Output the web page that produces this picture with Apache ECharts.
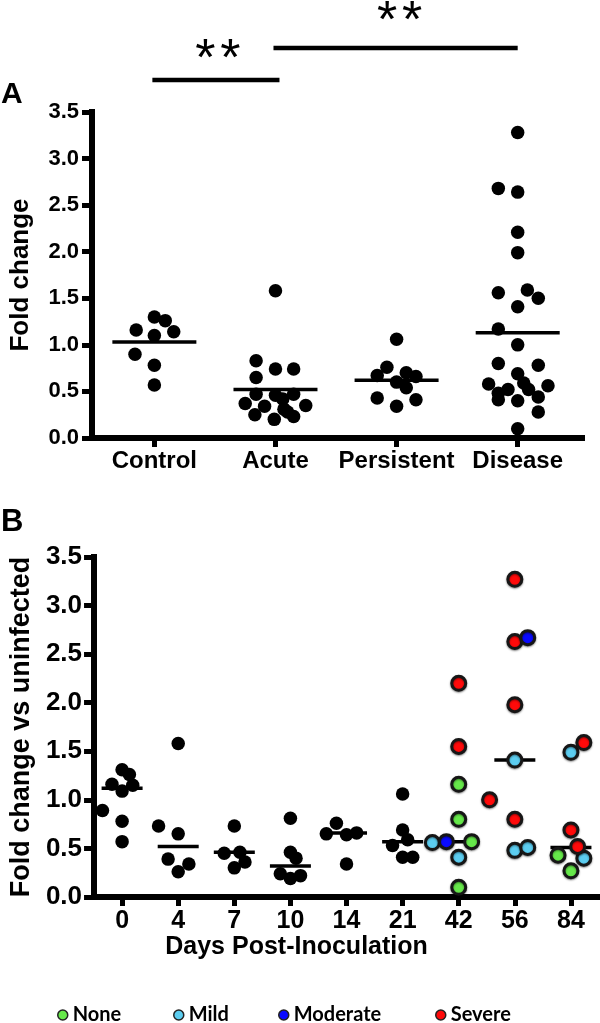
<!DOCTYPE html>
<html><head><meta charset="utf-8">
<script src="https://cdn.jsdelivr.net/npm/echarts@6/dist/echarts.min.js"></script>
<style>html,body{margin:0;padding:0;background:#fff}#c{width:600px;height:1023px}</style>
</head><body><div id="c"></div>
<script>
// ---------- Panel A data: [jitter (category units), fold change] ----------
const catsA = ['Control', 'Acute', 'Persistent', 'Disease'];
const controlPts = [[0,1.30],[0.09,1.26],[-0.15,1.16],[0.16,1.14],[0,1.10],[-0.16,0.90],[0,0.78],[0,0.57]];
const acutePts = [[0,1.58],[-0.16,0.83],[0,0.74],[0.15,0.74],[-0.16,0.65],[-0.16,0.47],[0,0.46],[0.15,0.47],
  [-0.25,0.37],[0.25,0.35],[-0.09,0.34],[0.07,0.31],[-0.17,0.25],[-0.01,0.20],[0.15,0.23],[0.06,0.42],[0.1,0.28]];
const persistentPts = [[0,1.06],[-0.08,0.76],[-0.16,0.67],[0.08,0.70],[0.16,0.66],[0,0.60],[0.08,0.54],[-0.16,0.43],[0.16,0.41],[0,0.34]];
const diseasePts = [[0,3.28],[-0.16,2.68],[0,2.64],[0,2.21],[0,1.99],[-0.16,1.56],[0.08,1.59],[0.17,1.50],[0,1.41],
  [-0.16,1.17],[0,1.00],[-0.16,0.80],[0.17,0.78],[0,0.69],[0.05,0.59],[-0.24,0.58],[0.25,0.56],[-0.08,0.52],[0.09,0.52],
  [-0.16,0.48],[-0.16,0.41],[0,0.40],[0.17,0.44],[0.17,0.28],[0,0.10]];
const meansA = [1.03, 0.52, 0.62, 1.13];
const sigPairs = [[0, 1, '*'], [1, 3, '*']];

// ---------- Panel B data: [day index, jitter, fold change] ----------
const daysB = ['0', '4', '7', '10', '14', '21', '42', '56', '84'];
const ungradedB = [
  [0,0,1.31],[0,0.13,1.26],[0,-0.18,1.16],[0,0.19,1.15],[0,0,1.09],[0,-0.35,0.89],[0,0,0.78],[0,0,0.57],
  [1,0,1.58],[1,-0.35,0.73],[1,0,0.65],[1,-0.18,0.39],[1,0.19,0.34],[1,0,0.26],
  [2,0,0.73],[2,-0.18,0.45],[2,0.10,0.46],[2,0.19,0.36],[2,0,0.30],
  [3,0,0.81],[3,0,0.46],[3,0.1,0.40],[3,-0.18,0.24],[3,0,0.19],[3,0.18,0.22],
  [4,-0.18,0.76],[4,-0.36,0.65],[4,0,0.64],[4,0.18,0.66],[4,0,0.34],
  [5,0,1.06],[5,0,0.69],[5,0.09,0.59],[5,-0.18,0.53],[5,0,0.41],[5,0.18,0.41]
];
const noneB = [[6,0,1.16],[6,0,0.80],[6,0.23,0.57],[6,0,0.10],[8,-0.23,0.43],[8,0,0.27]];
const mildB = [[6,-0.47,0.56],[6,0,0.41],[7,0,1.41],[7,0,0.48],[7,0.23,0.51],[8,0,1.49],[8,0.23,0.40]];
const severeB = [[6,0,2.20],[6,0,1.55],[7,0,3.27],[7,0,2.63],[7,0,1.98],[7,-0.45,1.00],[7,0,0.80],[8,0.23,1.59],[8,0,0.69],[8,0.12,0.52]];
const moderateB = [[6,-0.22,0.57],[7,0.23,2.67]];
const mediansB = [1.12, 0.52, 0.46, 0.32, 0.66, 0.57, 0.57, 1.41, 0.51];
const severityNames = ['None', 'Mild', 'Moderate', 'Severe'];
const severityColors = ['#66e84a', '#5ccdf0', '#0a0aff', '#ff0a0a'];

const FONT = 'Liberation Sans';
const chart = echarts.init(document.getElementById('c'), null, {renderer: 'canvas'});

function makeAxis(extra, fs, ticks, labelFmt, margin, tickLen) {
  const ax = {
    type: 'value',
    axisLine: {show: true, onZero: false, lineStyle: {color: '#000', width: 6, opacity: 1, cap: 'square'}},
    axisTick: {show: true, inside: false, length: tickLen, lineStyle: {color: '#000', width: 5}},
    axisLabel: {color: '#000', fontSize: fs, fontWeight: 'bold', fontFamily: FONT, margin: margin, formatter: labelFmt},
    splitLine: {show: false}
  };
  if (ticks) { ax.axisTick.customValues = ticks; ax.axisLabel.customValues = ticks; }
  return Object.assign(ax, extra);
}

const toA = (i, pts) => pts.map(p => [i + p[0], p[1]]);
const allA = [].concat(toA(0, controlPts), toA(1, acutePts), toA(2, persistentPts), toA(3, diseasePts));
const toB = pts => pts.map(p => [p[0] + p[1], p[2]]);
const sevData = [noneB, mildB, moderateB, severeB];
const nameStyle = (fs, pad) => ({color: '#000', fontSize: fs, fontWeight: 'bold', fontFamily: FONT, padding: pad || 0});
const blackStyle = {color: '#000', opacity: 1};
const colorMarker = (c) => ({color: c, opacity: 1, borderColor: '#161616', borderWidth: 3, shadowColor: 'rgba(0,0,0,0.45)', shadowBlur: 2, shadowOffsetY: 1});

const option = {
  animation: false,
  backgroundColor: '#fff',
  grid: [
    {left: 87, top: 112, right: 18, bottom: 585, containLabel: false},
    {left: 86, top: 557, right: 1, bottom: 126, containLabel: false}
  ],
  xAxis: [
    makeAxis({gridIndex: 0, min: -0.515, max: 3.531}, 24, [0, 1, 2, 3], v => catsA[Math.round(v)], 11, 9),
    makeAxis({gridIndex: 1, min: -0.5, max: 8.5,
      name: 'Days Post-Inoculation', nameLocation: 'middle', nameGap: 31, nameTextStyle: nameStyle(25, [0, 100, 0, 0])},
      25, [0, 1, 2, 3, 4, 5, 6, 7, 8], v => daysB[Math.round(v)], 12, 9)
  ],
  yAxis: [
    makeAxis({gridIndex: 0, min: 0, max: 3.5, interval: 0.5,
      name: 'Fold change', nameLocation: 'middle', nameGap: 58, nameTextStyle: nameStyle(26)},
      22, null, v => v.toFixed(1), 13, 10),
    makeAxis({gridIndex: 1, min: 0, max: 3.5, interval: 0.5,
      name: 'Fold change vs uninfected', nameLocation: 'middle', nameGap: 59, nameTextStyle: nameStyle(27)},
      26, null, v => v.toFixed(1), 12, 10)
  ],
  legend: severityNames.map((n, i) => ({
    data: [n], left: [52, 168, 273, 430][i], top: 1000, icon: 'circle', itemWidth: 10, itemHeight: 10,
    itemStyle: {borderWidth: 1.5, borderColor: '#222', shadowBlur: 0},
    textStyle: {color: '#000', fontSize: 20, fontWeight: 'bold', fontFamily: 'Lato'}, selectedMode: false
  })),
  series: [
    {type: 'scatter', name: 'meanA', xAxisIndex: 0, yAxisIndex: 0, symbol: 'rect', symbolSize: [84, 3.5], z: 1,
      itemStyle: blackStyle, data: meansA.map((v, i) => [i, v]), silent: true},
    {type: 'scatter', name: 'pointsA', xAxisIndex: 0, yAxisIndex: 0, symbol: 'circle', symbolSize: 13.5, z: 2,
      itemStyle: blackStyle, data: allA},
    {type: 'scatter', name: 'medianB', xAxisIndex: 1, yAxisIndex: 1, symbol: 'rect', symbolSize: [41, 3.5], z: 1,
      itemStyle: blackStyle, data: mediansB.map((v, i) => [i, v]), silent: true},
    {type: 'scatter', name: 'ungradedB', xAxisIndex: 1, yAxisIndex: 1, symbol: 'circle', symbolSize: 13.5, z: 2,
      itemStyle: blackStyle, data: toB(ungradedB)}
  ].concat([0, 1, 3, 2].map(i => ({
    type: 'scatter', name: severityNames[i], xAxisIndex: 1, yAxisIndex: 1, symbol: 'circle', symbolSize: 14, z: 3,
    itemStyle: colorMarker(severityColors[i]), data: toB(sevData[i])
  })))
};
chart.setOption(option);

const barY = [80, 48];
const starY = [61, 23];
const g = [
  {type: 'text', left: 1, top: 80, style: {text: 'A', font: 'bold 30px ' + FONT, fill: '#000'}},
  {type: 'text', left: 1, top: 507, style: {text: 'B', font: 'bold 31px ' + FONT, fill: '#000'}}
];
sigPairs.forEach((p, k) => {
  const x1 = chart.convertToPixel({xAxisIndex: 0}, p[0]);
  const x2 = chart.convertToPixel({xAxisIndex: 0}, p[1]);
  g.push({type: 'line', shape: {x1: x1 - 2, y1: barY[k], x2: x2 + (k === 0 ? 4 : 0), y2: barY[k]}, style: {stroke: '#000', lineWidth: 4.5}});
  const cx = (x1 + x2) / 2 + 3;
  [-12.5, 12.5].forEach(dx => g.push({type: 'text', x: cx + dx, y: starY[k],
    style: {text: p[2], font: '52px ' + FONT, fill: '#000', align: 'center', verticalAlign: 'middle'}}));
});
chart.setOption({graphic: g});
</script></body></html>
